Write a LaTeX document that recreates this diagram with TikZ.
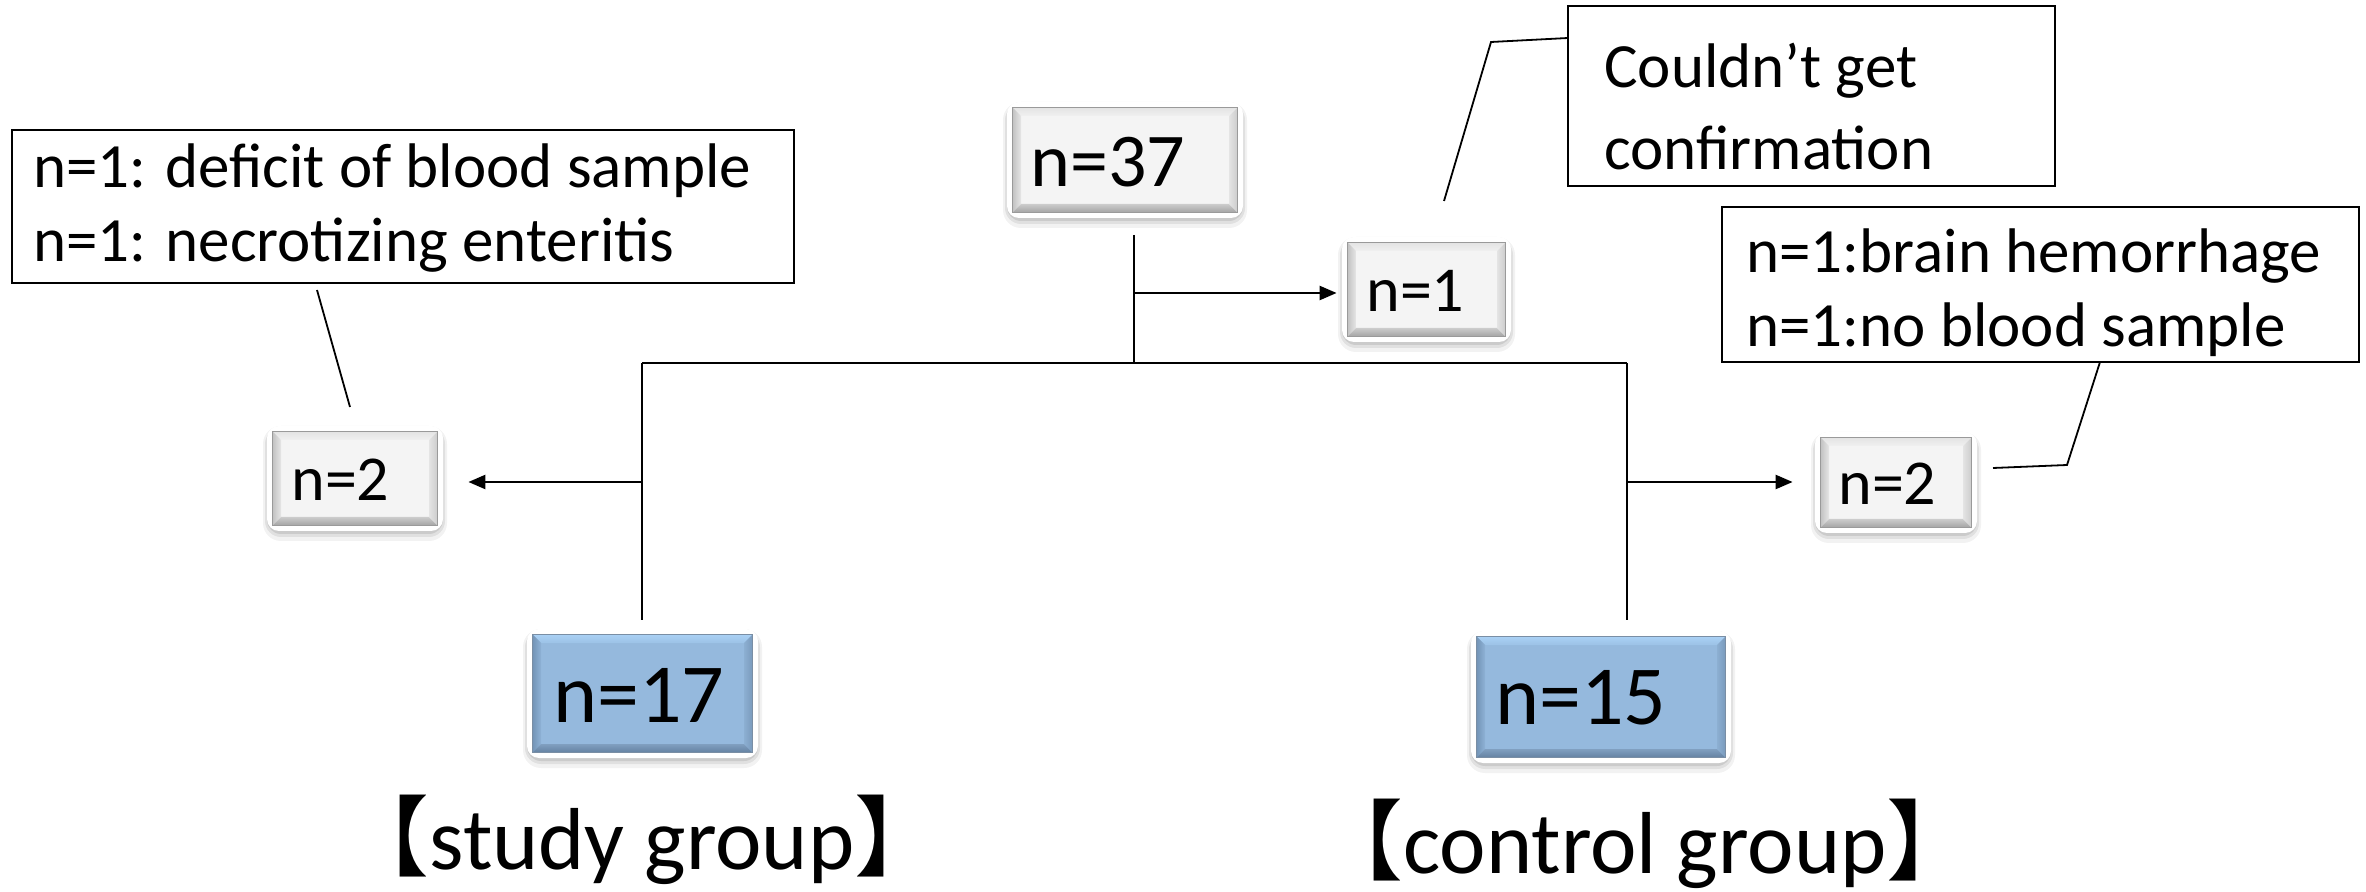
\documentclass[tikz,border=0pt]{standalone}
\usepackage{fontspec}
\setmainfont{Carlito}
\newfontfamily\cjk{Noto Sans CJK JP}
\usetikzlibrary{arrows.meta,fit}

\definecolor{gface}{HTML}{F4F4F4}
\definecolor{gtopA}{HTML}{E4E4E4}\definecolor{gtopB}{HTML}{F0F0F0}
\definecolor{gleftA}{HTML}{C4C4C4}\definecolor{gleftB}{HTML}{E6E6E6}
\definecolor{gbotA}{HTML}{CCCCCC}\definecolor{gbotB}{HTML}{A6A6A6}
\definecolor{grightA}{HTML}{E4E4E4}\definecolor{grightB}{HTML}{CDCDCD}
\definecolor{gedge}{HTML}{9A9A9A}

\definecolor{bface}{HTML}{95B9DD}
\definecolor{btopA}{HTML}{A9D0F4}\definecolor{btopB}{HTML}{9CC2E6}
\definecolor{bleftA}{HTML}{7596B8}\definecolor{bleftB}{HTML}{8EB2D6}
\definecolor{bbotA}{HTML}{809FC0}\definecolor{bbotB}{HTML}{6683A3}
\definecolor{brightA}{HTML}{8CAFD2}\definecolor{brightB}{HTML}{7B9BBD}
\definecolor{bedge}{HTML}{7A8EA4}

\tikzset{
  thin line/.style={line width=0.75pt, black},
  arr/.style={line width=1.2pt, black, -{Triangle[length=8.5pt,width=7pt]}},
  cbox/.style={draw=black, line width=1pt, inner sep=0pt},
  cline/.style={line width=0.9pt, black},
  ctext/.style={inner sep=0pt, align=left, font=\fontsize{31.5}{37}\selectfont},
  btext/.style={inner sep=0pt, anchor=west},
  glabel/.style={inner sep=0pt, anchor=base, font=\fontsize{44}{50}\selectfont},
}

% #1 name, #2 x1, #3 y1, #4 x2, #5 y2, #6 colour prefix (g or b)
\newcommand\bevbox[6]{%
  \fill[black,opacity=0.05,rounded corners=9] (#2-10,#3-6) rectangle (#4+10,#5+16);
  \fill[black,opacity=0.07,rounded corners=8] (#2-8,#3-4) rectangle (#4+8,#5+12);
  \fill[black,opacity=0.09,rounded corners=7] (#2-6,#3-2) rectangle (#4+6,#5+9);
  \fill[white,rounded corners=6] (#2-6,#3-6) rectangle (#4+6,#5+6);
  \node[fit={(#2,#3) (#4,#5)}, inner sep=0pt, fill=#6face] (#1) {};
  \shade[top color=#6topA, bottom color=#6topB] (#2,#3) -- (#4,#3) -- (#4-8,#3+8) -- (#2+8,#3+8) -- cycle;
  \shade[left color=#6leftA, right color=#6leftB] (#2,#3) -- (#2+8,#3+8) -- (#2+8,#5-8) -- (#2,#5) -- cycle;
  \shade[top color=#6botA, bottom color=#6botB] (#2,#5) -- (#2+8,#5-8) -- (#4-8,#5-8) -- (#4,#5) -- cycle;
  \shade[left color=#6rightA, right color=#6rightB] (#4,#3) -- (#4,#5) -- (#4-8,#5-8) -- (#4-8,#3+8) -- cycle;
  \draw[#6edge, line width=0.5pt] (#1.north west) rectangle (#1.south east);
}

\begin{document}
\begin{tikzpicture}[x=0.5pt,y=-0.5pt]
\useasboundingbox (0,0) rectangle (2366,892);
\fill[white] (0,0) rectangle (2366,892);

% boxes
\bevbox{n37}{1013}{108}{1237}{212}{g}
\node[btext, font=\fontsize{38}{38}\selectfont] (n37t) at (1030,162) {n=37};

\bevbox{n1}{1348}{243}{1505}{336}{g}
\node[btext, font=\fontsize{32}{32}\selectfont] (n1t) at (1366,291) {n=1};

\bevbox{n2L}{273}{432}{437}{525}{g}
\node[btext, font=\fontsize{32}{32}\selectfont] (n2Lt) at (291,480) {n=2};

\bevbox{n2R}{1821}{438}{1971}{527}{g}
\node[btext, font=\fontsize{32}{32}\selectfont] (n2Rt) at (1838,484) {n=2};

\bevbox{n17}{533}{635}{752}{752}{b}
\node[btext, font=\fontsize{42}{42}\selectfont] (n17t) at (553,695) {n=17};

\bevbox{n15}{1477}{637}{1725}{757}{b}
\node[btext, font=\fontsize{42}{42}\selectfont] (n15t) at (1495,698) {n=15};

% callout boxes
\node[cbox, fit={(12,130) (794,283)}] (cL) {};
\node[ctext, anchor=base west] (cLt) at (33,262) {n=1: deficit of blood sample\\n=1: necrotizing enteritis};

\node[cbox, fit={(1568,6) (2055,186)}] (cT) {};
\node[ctext, anchor=base west, font=\fontsize{31.5}{41}\selectfont] (cTt) at (1604,170) {Couldn’t get\\confirmation};

\node[cbox, fit={(1722,207) (2359,362)}] (cR) {};
\node[ctext, anchor=base west] (cRt) at (1746,347) {n=1:brain hemorrhage\\n=1:no blood sample};

% connector coordinates
\coordinate (t0) at (1134,235);
\coordinate (t1) at (1134,363);
\coordinate (hl) at (642,363);
\coordinate (hr) at (1627,363);
\coordinate (bl) at (642,620);
\coordinate (br) at (1627,620);
\coordinate (j1) at (1134,293);
\coordinate (jL) at (642,482);
\coordinate (jR) at (1627,482);

\draw[thin line] (t0) -- (t1);
\draw[thin line] (hl) -- (hr);
\draw[thin line] (hl) -- (bl);
\draw[thin line] (hr) -- (br);

\draw[arr, shorten >=5.5pt] (j1) -- (j1 -| n1.west);
\draw[arr, shorten >=15.5pt] (jL) -- (jL -| n2L.east);
\draw[arr, shorten >=14pt] (jR) -- (jR -| n2R.west);

% callout lines
\coordinate (c1a) at (317,290);
\coordinate (c1b) at (350,407);
\draw[cline] (c1a) -- (c1b);
\coordinate (c2a) at (1444,201);
\coordinate (c2b) at (1491,42);
\coordinate (c2c) at (1568,38);
\draw[cline] (c2a) -- (c2b) -- (c2c);
\coordinate (c3a) at (1993,468);
\coordinate (c3b) at (2067,465);
\coordinate (c3c) at (2100,362);
\draw[cline] (c3a) -- (c3b) -- (c3c);

% group labels
\node[glabel] (lstudy) at (642,869) {{\cjk 【}study group{\cjk 】}};
\node[glabel] (lcontrol) at (1645,873) {{\cjk 【}control group{\cjk 】}};
\end{tikzpicture}
\end{document}
